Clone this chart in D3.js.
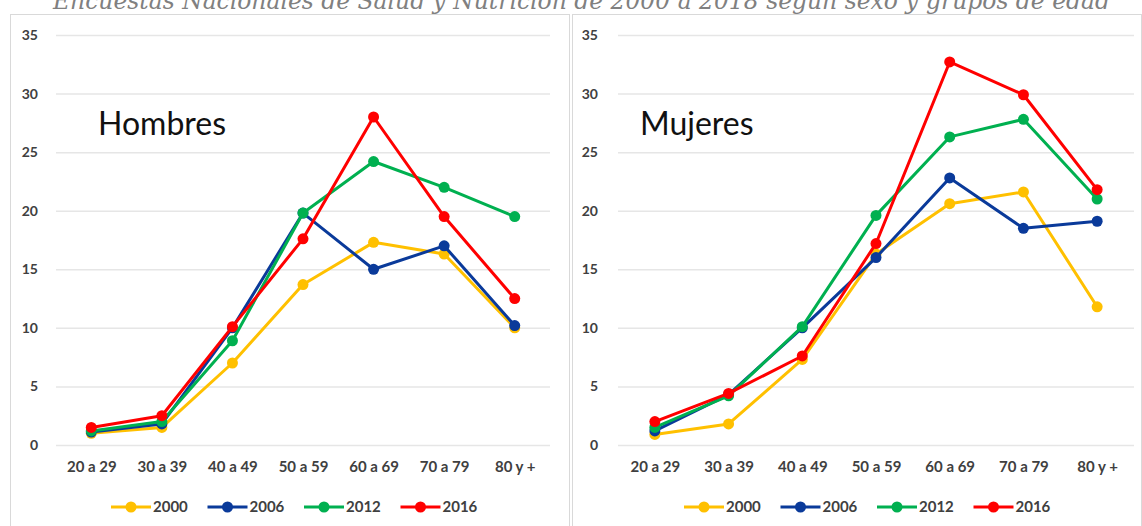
<!DOCTYPE html>
<html><head><meta charset="utf-8">
<script src="https://cdn.jsdelivr.net/npm/d3@7"></script>
<style>
html,body{margin:0;padding:0;background:#fff;overflow:hidden}
svg{display:block}
</style></head>
<body>
<svg id="chart" width="1142" height="526"></svg>
<script>
// ---- data ----
const title = "Encuestas Nacionales de Salud y Nutrición de 2000 a 2018 según sexo y grupos de edad";
const categories = ["20 a 29","30 a 39","40 a 49","50 a 59","60 a 69","70 a 79","80 y +"];
const years = ["2000","2006","2012","2016"];
const yTicks = [0,5,10,15,20,25,30,35];
const panelTitles = ["Hombres","Mujeres"];
const hombres2000 = [1.0,1.5,7.0,13.7,17.3,16.3,10.0];
const hombres2006 = [1.1,1.8,10.0,19.8,15.0,17.0,10.2];
const hombres2012 = [1.2,2.0,8.9,19.8,24.2,22.0,19.5];
const hombres2016 = [1.5,2.5,10.1,17.6,28.0,19.5,12.5];
const mujeres2000 = [0.9,1.8,7.3,16.3,20.6,21.6,11.8];
const mujeres2006 = [1.2,4.3,10.0,16.0,22.8,18.5,19.1];
const mujeres2012 = [1.5,4.2,10.1,19.6,26.3,27.8,21.0];
const mujeres2016 = [2.0,4.4,7.6,17.2,32.7,29.9,21.8];

const colors = ["#FFC000","#0A3A9A","#00B050","#FF0000"];
const panels = [
  {name: panelTitles[0], series:[hombres2000,hombres2006,hombres2012,hombres2016],
   box:[10,14,569,540], plot:[56,550], labelRight:38, titleX:98, legendX:111},
  {name: panelTitles[1], series:[mujeres2000,mujeres2006,mujeres2012,mujeres2016],
   box:[572,14,1141,540], plot:[618,1134], labelRight:598, titleX:640, legendX:684}
];

const svg = d3.select("#chart");
const font = "Lato, 'Open Sans', sans-serif";

// title (cut off at the top edge, as in the reference)
svg.append("text")
  .attr("x",53).attr("y",9)
  .attr("textLength",1057).attr("lengthAdjust","spacingAndGlyphs")
  .style("font-family","'DejaVu Serif', serif").style("font-style","italic")
  .style("font-size","25px").style("fill","#808080")
  .text(title);

const y = d3.scaleLinear().domain([0,35]).range([445,35]);

panels.forEach(p=>{
  const g = svg.append("g");
  g.append("rect").attr("x",p.box[0]+0.5).attr("y",p.box[1]+0.5)
    .attr("width",p.box[2]-p.box[0]).attr("height",p.box[3]-p.box[1])
    .attr("fill","#fff").attr("stroke","#d9d9d9").attr("stroke-width",1);

  const x = d3.scalePoint().domain(categories).range(p.plot).padding(0.5);

  // grid + y labels
  const yAxis = d3.axisLeft(y).tickValues(yTicks).tickSize(-(p.plot[1]-p.plot[0])).tickPadding(p.plot[0]-p.labelRight);
  const ga = g.append("g").attr("transform",`translate(${p.plot[0]},0)`).call(yAxis);
  ga.select(".domain").remove();
  ga.selectAll(".tick line").attr("stroke","#e6e6e6").attr("stroke-width",1.5);
  ga.selectAll(".tick text").style("font-family",font).style("font-weight","bold")
    .style("font-size","14px").style("fill","#404040");

  // x axis labels
  const xAxis = d3.axisBottom(x).tickSize(0).tickPadding(0);
  const gx = g.append("g").attr("transform","translate(0,461)").call(xAxis);
  gx.select(".domain").remove();
  gx.selectAll(".tick text").attr("dy","0.71em").style("font-family",font).style("font-weight","bold")
    .style("font-size","15px").style("fill","#404040");

  // panel title
  g.append("text").attr("x",p.titleX).attr("y",135)
    .style("font-family",font).style("font-size","32px").style("fill","#111")
    .text(p.name);

  // series
  const line = d3.line().x((d,i)=>x(categories[i])).y(d=>y(d));
  p.series.forEach((s,k)=>{
    g.append("path").datum(s).attr("d",line).attr("fill","none")
      .attr("stroke",colors[k]).attr("stroke-width",3).attr("stroke-linejoin","round");
    g.selectAll(null).data(s).enter().append("circle")
      .attr("cx",(d,i)=>x(categories[i])).attr("cy",d=>y(d)).attr("r",5.5)
      .attr("fill",colors[k]);
  });

  // legend
  const lg = g.append("g").attr("transform",`translate(${p.legendX},507)`);
  years.forEach((yr,k)=>{
    const it = lg.append("g").attr("transform",`translate(${k*96.5},0)`);
    it.append("line").attr("x1",0).attr("x2",40).attr("y1",0).attr("y2",0)
      .attr("stroke",colors[k]).attr("stroke-width",3);
    it.append("circle").attr("cx",20).attr("cy",0).attr("r",5.5).attr("fill",colors[k]);
    it.append("text").attr("x",42).attr("y",0).attr("dy","0.35em")
      .style("font-family",font).style("font-weight","bold").style("font-size","15px").style("fill","#404040")
      .text(yr);
  });
});
</script>
</body></html>
